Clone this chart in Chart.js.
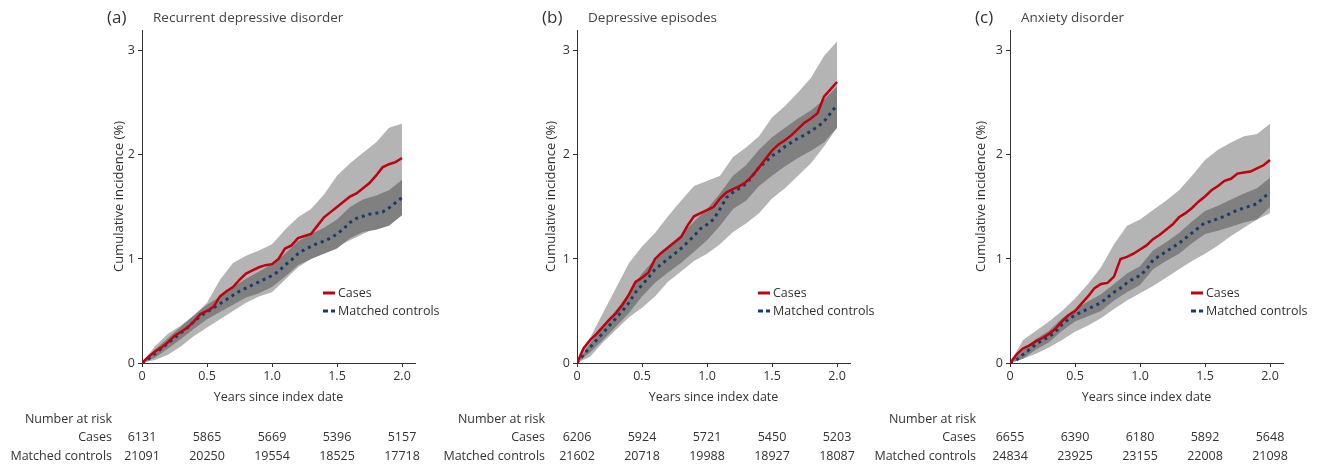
<!DOCTYPE html>
<html><head><meta charset="utf-8">
<script src="https://cdn.jsdelivr.net/npm/chart.js@4.4.1/dist/chart.umd.min.js"></script>
<style>
html,body{margin:0;padding:0;background:#fff;}
#wrap{position:relative;width:1317px;height:466px;overflow:hidden;}
.p{position:absolute;top:0;height:466px;}
</style></head><body>
<div id="wrap">
<div class="p" style="left:0;width:460px"><canvas id="ca" width="460" height="466"></canvas></div>
<div class="p" style="left:430px;width:465px"><canvas id="cb" width="465" height="466"></canvas></div>
<div class="p" style="left:865px;width:452px"><canvas id="cc" width="452" height="466"></canvas></div>
</div>
<script>
// ---------- data ----------
const yearsLine = [0,0.05,0.1,0.15,0.2,0.25,0.3,0.35,0.4,0.45,0.5,0.55,0.6,0.65,0.7,0.75,0.8,0.85,0.9,0.95,1.0,1.05,1.1,1.15,1.2,1.25,1.3,1.35,1.4,1.45,1.5,1.55,1.6,1.65,1.7,1.75,1.8,1.85,1.9,1.95,2.0];
const yearsBand = [0,0.1,0.2,0.3,0.4,0.5,0.6,0.7,0.8,0.9,1.0,1.1,1.2,1.3,1.4,1.5,1.6,1.7,1.8,1.9,2.0];
const xTicks = [0,0.5,1.0,1.5,2.0];
const yTicks = [0,1,2,3];
const riskYears = [0,0.5,1.0,1.5,2.0];

// (a) Recurrent depressive disorder
const casesA    = [0,0.06,0.11,0.15,0.20,0.26,0.30,0.34,0.40,0.47,0.50,0.54,0.64,0.69,0.73,0.80,0.86,0.89,0.92,0.94,0.95,1.00,1.10,1.13,1.20,1.22,1.24,1.32,1.40,1.45,1.50,1.55,1.60,1.63,1.68,1.73,1.80,1.88,1.91,1.93,1.97];
const controlsA = [0,0.04,0.09,0.14,0.19,0.24,0.29,0.34,0.40,0.45,0.49,0.53,0.57,0.61,0.65,0.69,0.72,0.75,0.78,0.81,0.84,0.88,0.94,0.99,1.05,1.09,1.12,1.15,1.17,1.20,1.24,1.29,1.35,1.39,1.41,1.43,1.44,1.45,1.49,1.54,1.59];
const casesHiA  = [0,0.16,0.28,0.36,0.46,0.58,0.80,0.96,1.03,1.08,1.14,1.28,1.40,1.48,1.62,1.80,1.92,2.02,2.12,2.26,2.30];
const casesLoA  = [0,0.03,0.08,0.16,0.26,0.34,0.42,0.50,0.58,0.64,0.68,0.80,0.92,1.00,1.06,1.12,1.18,1.24,1.30,1.38,1.43];
const ctrlHiA   = [0,0.13,0.24,0.35,0.46,0.56,0.64,0.73,0.81,0.88,0.95,1.05,1.17,1.24,1.30,1.38,1.50,1.57,1.61,1.66,1.76];
const ctrlLoA   = [0,0.05,0.14,0.23,0.33,0.42,0.49,0.56,0.63,0.67,0.73,0.83,0.94,1.00,1.05,1.10,1.20,1.26,1.28,1.32,1.42];
const riskCasesA = [6131,5865,5669,5396,5157];
const riskCtrlA  = [21091,20250,19554,18525,17718];

// (b) Depressive episodes
const casesB    = [0,0.14,0.22,0.28,0.35,0.42,0.48,0.56,0.66,0.78,0.82,0.87,1.00,1.06,1.11,1.16,1.21,1.32,1.41,1.44,1.47,1.50,1.58,1.64,1.67,1.70,1.74,1.80,1.88,1.96,2.04,2.10,2.14,2.19,2.25,2.31,2.35,2.40,2.56,2.63,2.70];
const controlsB = [0,0.08,0.15,0.22,0.29,0.36,0.43,0.50,0.58,0.68,0.75,0.82,0.90,0.95,1.00,1.05,1.10,1.16,1.22,1.29,1.33,1.38,1.48,1.59,1.64,1.68,1.72,1.80,1.88,1.93,1.99,2.03,2.08,2.12,2.16,2.19,2.23,2.27,2.32,2.40,2.48];
const casesHiB  = [0,0.24,0.48,0.72,0.96,1.12,1.25,1.41,1.56,1.70,1.75,1.80,1.98,2.07,2.18,2.36,2.47,2.60,2.74,2.95,3.09];
const casesLoB  = [0,0.06,0.20,0.32,0.44,0.53,0.64,0.78,0.88,0.98,1.05,1.14,1.26,1.34,1.44,1.58,1.68,1.80,1.92,2.08,2.26];
const ctrlHiB   = [0,0.19,0.35,0.51,0.67,0.86,1.00,1.12,1.23,1.36,1.48,1.63,1.80,1.90,2.05,2.17,2.26,2.35,2.43,2.53,2.66];
const ctrlLoB   = [0,0.10,0.22,0.35,0.48,0.64,0.77,0.87,0.96,1.07,1.18,1.32,1.48,1.56,1.70,1.80,1.89,1.97,2.04,2.12,2.26];
const riskCasesB = [6206,5924,5721,5450,5203];
const riskCtrlB  = [21602,20718,19988,18927,18087];

// (c) Anxiety disorder
const casesC    = [0,0.08,0.14,0.17,0.21,0.24,0.28,0.33,0.40,0.46,0.50,0.57,0.64,0.72,0.76,0.77,0.83,1.00,1.02,1.05,1.09,1.13,1.19,1.23,1.28,1.33,1.40,1.44,1.49,1.55,1.60,1.66,1.70,1.75,1.77,1.82,1.83,1.84,1.87,1.90,1.95];
const controlsC = [0,0.03,0.08,0.13,0.18,0.22,0.25,0.30,0.37,0.42,0.46,0.49,0.52,0.55,0.58,0.63,0.68,0.72,0.77,0.81,0.84,0.90,0.99,1.03,1.07,1.11,1.15,1.20,1.25,1.30,1.35,1.36,1.39,1.41,1.44,1.47,1.49,1.51,1.53,1.59,1.64];
const casesHiC  = [0,0.22,0.31,0.40,0.50,0.62,0.76,0.92,1.14,1.32,1.38,1.47,1.56,1.66,1.80,1.95,2.05,2.12,2.18,2.20,2.30];
const casesLoC  = [0,0.04,0.09,0.15,0.22,0.30,0.36,0.43,0.52,0.60,0.67,0.74,0.82,0.90,0.98,1.05,1.13,1.22,1.30,1.38,1.44];
const ctrlHiC   = [0,0.12,0.23,0.31,0.43,0.52,0.59,0.66,0.76,0.86,0.93,1.08,1.16,1.25,1.36,1.46,1.51,1.57,1.63,1.68,1.78];
const ctrlLoC   = [0,0.04,0.13,0.20,0.31,0.40,0.45,0.50,0.60,0.68,0.75,0.90,0.98,1.05,1.15,1.24,1.27,1.31,1.35,1.38,1.50];
const riskCasesC = [6655,6390,6180,5892,5648];
const riskCtrlC  = [24834,23925,23155,22008,21098];

// ---------- styling ----------
const RED = '#c0000c';
const BLUE = '#1a3c6c';
const LIGHT = '#b4b4b4';
const DARK = '#808080';
const TXT = '#333333';
Chart.defaults.font.family = '"Open Sans", "Noto Sans", sans-serif';
Chart.defaults.color = TXT;

const pts = (xs, ys) => xs.map((x, i) => ({x: x, y: ys[i]}));

const extras = {
  id: 'extras',
  afterDraw(chart, args, o) {
    const ctx = chart.ctx, ca = chart.chartArea, xs = chart.scales.x;
    ctx.save();
    ctx.textBaseline = 'middle';
    ctx.textAlign = 'left';
    ctx.fillStyle = TXT;
    ctx.font = '17px "Open Sans"';
    ctx.fillText(o.letter, ca.left - 35, 18);
    ctx.fillStyle = '#444';
    ctx.font = '13.5px "Open Sans"';
    ctx.fillText(o.title, ca.left + 11, 18);
    // legend
    const lx = ca.left + 181;
    ctx.lineCap = 'butt';
    ctx.strokeStyle = RED; ctx.lineWidth = 3; ctx.setLineDash([]);
    ctx.beginPath(); ctx.moveTo(lx, 293); ctx.lineTo(lx + 12, 293); ctx.stroke();
    ctx.strokeStyle = BLUE; ctx.lineWidth = 3; ctx.setLineDash([5, 3]);
    ctx.beginPath(); ctx.moveTo(lx, 311); ctx.lineTo(lx + 12, 311); ctx.stroke();
    ctx.setLineDash([]);
    ctx.fillStyle = TXT;
    ctx.font = '12.5px "Open Sans"';
    ctx.fillText('Cases', lx + 15, 293);
    ctx.fillText('Matched controls', lx + 15, 311);
    // number at risk
    ctx.font = '12.5px "Open Sans"';
    ctx.textAlign = 'right';
    const rx = ca.left - o.riskOff;
    ctx.fillText('Number at risk', rx, 419);
    ctx.fillText('Cases', rx, 437);
    ctx.fillText('Matched controls', rx, 456);
    ctx.textAlign = 'center';
    riskYears.forEach((t, i) => {
      const px = xs.getPixelForValue(t);
      ctx.fillText(String(o.cases[i]), px, 437);
      ctx.fillText(String(o.ctrl[i]), px, 456);
    });
    ctx.restore();
  }
};

function makeChart(id, c) {
  const bandDs = (ys, color, fill, order) => ({
    data: pts(yearsBand, ys), borderWidth: 0, borderColor: 'rgba(0,0,0,0)',
    backgroundColor: color, fill: fill, stepped: false, tension: 0, pointRadius: 0, order: order
  });
  return new Chart(document.getElementById(id), {
    type: 'line',
    data: {
      datasets: [
        bandDs(c.casesHi, LIGHT, 1, 10),
        bandDs(c.casesLo, LIGHT, false, 9),
        bandDs(c.ctrlHi, DARK, 3, 8),
        bandDs(c.ctrlLo, DARK, false, 7),
        {label: 'Matched controls', data: pts(yearsLine, c.ctrl), borderColor: BLUE, borderWidth: 3,
         borderDash: [3, 4], borderCapStyle: 'butt', fill: false, stepped: false, tension: 0, pointRadius: 0, order: 2},
        {label: 'Cases', data: pts(yearsLine, c.cases), borderColor: RED, borderWidth: 2.5,
         borderJoinStyle: 'miter', fill: false, stepped: false, tension: 0, pointRadius: 0, order: 1}
      ]
    },
    options: {
      responsive: false,
      animation: false,
      events: [],
      layout: {padding: {left: c.padL, right: c.padR, top: 30, bottom: 61}},
      plugins: {
        legend: {display: false},
        tooltip: {enabled: false},
        extras: {letter: c.letter, title: c.title, cases: c.riskCases, ctrl: c.riskCtrl, riskOff: c.riskOff}
      },
      scales: {
        x: {
          type: 'linear', min: 0, max: 2.1,
          afterBuildTicks: s => { s.ticks = xTicks.map(v => ({value: v})); },
          afterFit: s => { s.height = 42; },
          ticks: {callback: v => v === 0 ? '0' : Number(v).toFixed(1), color: TXT, font: {size: 12.5}, padding: 2, maxRotation: 0, autoSkip: false},
          grid: {drawOnChartArea: false, drawTicks: true, tickLength: 4, color: TXT, tickColor: TXT},
          border: {display: true, color: TXT, width: 1},
          title: {display: true, text: 'Years since index date', color: TXT, font: {size: 12.5}, padding: 0}
        },
        y: {
          type: 'linear', min: 0, max: 3.2,
          afterBuildTicks: s => { s.ticks = yTicks.map(v => ({value: v})); },
          afterFit: s => { s.width = c.yw; },
          ticks: {callback: v => String(v), color: TXT, font: {size: 12.5}, padding: 3, autoSkip: false},
          grid: {drawOnChartArea: false, drawTicks: true, tickLength: 4, color: TXT, tickColor: TXT},
          border: {display: true, color: TXT, width: 1},
          title: {display: true, text: 'Cumulative incidence (%)', color: TXT, font: {size: 13}, padding: 0}
        }
      }
    },
    plugins: [extras]
  });
}

makeChart('ca', {letter: '(a)', title: 'Recurrent depressive disorder', padL: 111, yw: 31, padR: 45, riskOff: 30,
  cases: casesA, ctrl: controlsA, casesHi: casesHiA, casesLo: casesLoA, ctrlHi: ctrlHiA, ctrlLo: ctrlLoA,
  riskCases: riskCasesA, riskCtrl: riskCtrlA});
makeChart('cb', {letter: '(b)', title: 'Depressive episodes', padL: 113, yw: 34, padR: 45, riskOff: 32,
  cases: casesB, ctrl: controlsB, casesHi: casesHiB, casesLo: casesLoB, ctrlHi: ctrlHiB, ctrlLo: ctrlLoB,
  riskCases: riskCasesB, riskCtrl: riskCtrlB});
makeChart('cc', {letter: '(c)', title: 'Anxiety disorder', padL: 108, yw: 37, padR: 34, riskOff: 34,
  cases: casesC, ctrl: controlsC, casesHi: casesHiC, casesLo: casesLoC, ctrlHi: ctrlHiC, ctrlLo: ctrlLoC,
  riskCases: riskCasesC, riskCtrl: riskCtrlC});
</script>
</body></html>
